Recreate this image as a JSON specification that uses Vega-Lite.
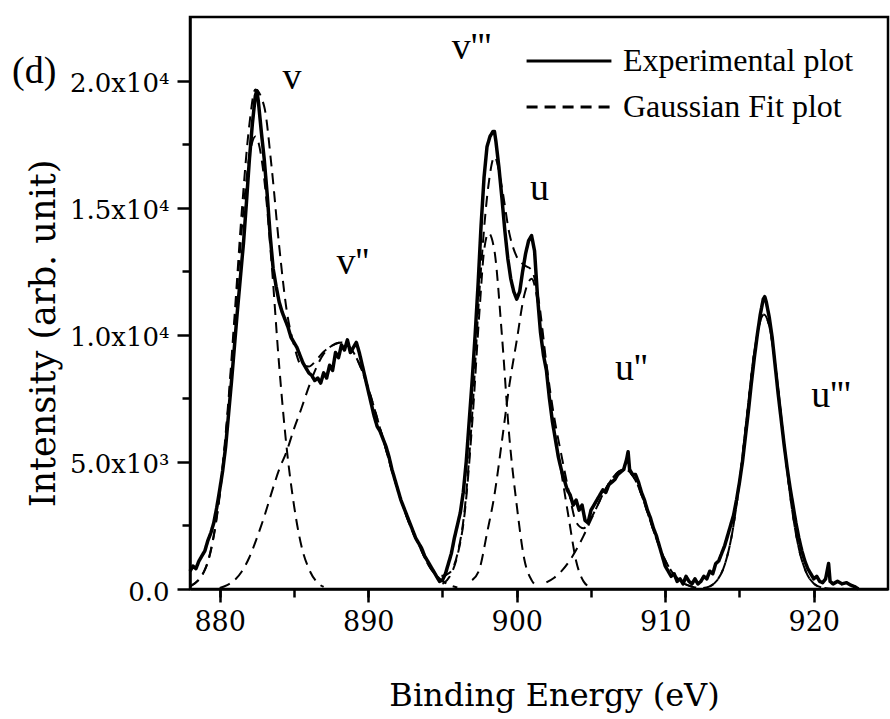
{
  "$schema": "https://vega.github.io/schema/vega-lite/v6.json",
  "width": 698,
  "height": 572,
  "autosize": "none",
  "padding": {"left": 190, "top": 17, "right": 2, "bottom": 130},
  "background": "white",
  "title": {"text": "(d)", "anchor": "start", "frame": "group", "orient": "top", "offset": 0, "baseline": "middle", "dx": -178, "dy": 93, "fontSize": 38, "font": "Liberation Serif", "fontWeight": "normal", "color": "black"},
  "config": {
    "view": {"stroke": "black", "strokeWidth": 2.5},
    "axis": {"domainColor": "black", "domainWidth": 2.5, "tickColor": "black", "tickWidth": 2.5, "labelColor": "black", "titleColor": "black", "titleFontWeight": "normal", "grid": false}
  },
  "datasets": {
    "exp": [
      {"E":878.0,"I":700},{"E":878.2,"I":900},{"E":878.4,"I":800},{"E":878.6,"I":1100},{"E":878.8,"I":1300},{"E":879.0,"I":1500},{"E":879.2,"I":1900},{"E":879.4,"I":2200},{"E":879.6,"I":2600},{"E":879.8,"I":3200},
      {"E":880.0,"I":3900},{"E":880.2,"I":4650},{"E":880.4,"I":5600},{"E":880.6,"I":6900},{"E":880.8,"I":8200},{"E":881.0,"I":9600},{"E":881.2,"I":11000},{"E":881.4,"I":12300},{"E":881.6,"I":13600},{"E":881.8,"I":15200},
      {"E":882.0,"I":16900},{"E":882.2,"I":18300},{"E":882.4,"I":19400},{"E":882.5,"I":19600},{"E":882.6,"I":19200},{"E":882.8,"I":18000},{"E":883.0,"I":16900},{"E":883.2,"I":15500},{"E":883.4,"I":13900},{"E":883.6,"I":12600},
      {"E":883.8,"I":11900},{"E":884.0,"I":11300},{"E":884.2,"I":10900},{"E":884.4,"I":10600},{"E":884.6,"I":10300},{"E":884.8,"I":9900},{"E":885.0,"I":9700},{"E":885.2,"I":9500},{"E":885.4,"I":9200},{"E":885.6,"I":8900},
      {"E":885.8,"I":8700},{"E":886.0,"I":8500},{"E":886.2,"I":8400},{"E":886.4,"I":8200},{"E":886.6,"I":8300},{"E":886.8,"I":8100},{"E":887.0,"I":8500},{"E":887.2,"I":8300},{"E":887.4,"I":8800},{"E":887.6,"I":8600},
      {"E":887.8,"I":9300},{"E":888.0,"I":9100},{"E":888.2,"I":9600},{"E":888.4,"I":9400},{"E":888.6,"I":9800},{"E":888.8,"I":9300},{"E":889.0,"I":9500},{"E":889.2,"I":9700},{"E":889.4,"I":9300},{"E":889.6,"I":8800},
      {"E":889.8,"I":8300},{"E":890.0,"I":7800},{"E":890.2,"I":7300},{"E":890.4,"I":6800},{"E":890.6,"I":6400},{"E":890.8,"I":6200},{"E":891.0,"I":5900},{"E":891.2,"I":5600},{"E":891.4,"I":5200},{"E":891.6,"I":4700},
      {"E":891.8,"I":4300},{"E":892.0,"I":3900},{"E":892.2,"I":3500},{"E":892.4,"I":3200},{"E":892.6,"I":2900},{"E":892.8,"I":2600},{"E":893.0,"I":2300},{"E":893.2,"I":2000},{"E":893.4,"I":1800},{"E":893.6,"I":1600},
      {"E":893.8,"I":1300},{"E":894.0,"I":1100},{"E":894.2,"I":900},{"E":894.4,"I":700},{"E":894.6,"I":500},{"E":894.8,"I":300},{"E":895.0,"I":350},{"E":895.2,"I":600},{"E":895.4,"I":1000},{"E":895.6,"I":1400},
      {"E":895.8,"I":2000},{"E":896.0,"I":2500},{"E":896.2,"I":3000},{"E":896.4,"I":3800},{"E":896.6,"I":5000},{"E":896.8,"I":6600},{"E":897.0,"I":8200},{"E":897.2,"I":10000},{"E":897.4,"I":12000},{"E":897.6,"I":14300},
      {"E":897.8,"I":16200},{"E":898.0,"I":17400},{"E":898.2,"I":17800},{"E":898.4,"I":18000},{"E":898.5,"I":18000},{"E":898.6,"I":17600},{"E":898.8,"I":16600},{"E":899.0,"I":15400},{"E":899.2,"I":14100},{"E":899.4,"I":13000},
      {"E":899.6,"I":12200},{"E":899.8,"I":11700},{"E":900.0,"I":11400},{"E":900.2,"I":11700},{"E":900.4,"I":12500},{"E":900.6,"I":13200},{"E":900.8,"I":13700},{"E":901.0,"I":13900},{"E":901.2,"I":13300},{"E":901.4,"I":11500},
      {"E":901.6,"I":10100},{"E":901.8,"I":9200},{"E":902.0,"I":8600},{"E":902.2,"I":7500},{"E":902.4,"I":6600},{"E":902.6,"I":5900},{"E":902.8,"I":5200},{"E":903.0,"I":4700},{"E":903.2,"I":4300},{"E":903.4,"I":3900},
      {"E":903.6,"I":3700},{"E":903.8,"I":3300},{"E":904.0,"I":3500},{"E":904.2,"I":3100},{"E":904.4,"I":3300},{"E":904.6,"I":2700},{"E":904.8,"I":2600},{"E":905.0,"I":3100},{"E":905.2,"I":3300},{"E":905.4,"I":3500},
      {"E":905.6,"I":3700},{"E":905.8,"I":3900},{"E":906.0,"I":3800},{"E":906.2,"I":4100},{"E":906.4,"I":4200},{"E":906.6,"I":4300},{"E":906.8,"I":4500},{"E":907.0,"I":4600},{"E":907.2,"I":4700},{"E":907.4,"I":5100},
      {"E":907.5,"I":5400},{"E":907.6,"I":4700},{"E":907.8,"I":4500},{"E":908.0,"I":4500},{"E":908.2,"I":4200},{"E":908.4,"I":3800},{"E":908.6,"I":3500},{"E":908.8,"I":3100},{"E":909.0,"I":2800},{"E":909.2,"I":2400},
      {"E":909.4,"I":2100},{"E":909.6,"I":1700},{"E":909.8,"I":1300},{"E":910.0,"I":900},{"E":910.2,"I":700},{"E":910.4,"I":500},{"E":910.6,"I":600},{"E":910.8,"I":300},{"E":911.0,"I":400},{"E":911.2,"I":200},
      {"E":911.4,"I":500},{"E":911.6,"I":300},{"E":911.8,"I":200},{"E":912.0,"I":400},{"E":912.2,"I":200},{"E":912.4,"I":300},{"E":912.6,"I":500},{"E":912.8,"I":400},{"E":913.0,"I":700},{"E":913.2,"I":600},
      {"E":913.4,"I":1000},{"E":913.6,"I":1100},{"E":913.8,"I":1400},{"E":914.0,"I":1700},{"E":914.2,"I":2100},{"E":914.4,"I":2500},{"E":914.6,"I":2900},{"E":914.8,"I":3500},{"E":915.0,"I":4200},{"E":915.2,"I":5000},
      {"E":915.4,"I":6000},{"E":915.6,"I":7000},{"E":915.8,"I":8100},{"E":916.0,"I":9100},{"E":916.2,"I":10000},{"E":916.4,"I":10800},{"E":916.6,"I":11400},{"E":916.7,"I":11500},{"E":916.8,"I":11300},{"E":917.0,"I":10700},
      {"E":917.2,"I":9900},{"E":917.4,"I":8800},{"E":917.6,"I":7700},{"E":917.8,"I":6700},{"E":918.0,"I":5700},{"E":918.2,"I":4800},{"E":918.4,"I":4000},{"E":918.6,"I":3300},{"E":918.8,"I":2600},{"E":919.0,"I":2000},
      {"E":919.2,"I":1500},{"E":919.4,"I":1100},{"E":919.6,"I":800},{"E":919.8,"I":600},{"E":920.0,"I":400},{"E":920.2,"I":500},{"E":920.4,"I":300},{"E":920.6,"I":250},{"E":920.8,"I":400},{"E":921.0,"I":1000},
      {"E":921.1,"I":300},{"E":921.3,"I":200},{"E":921.6,"I":300},{"E":921.9,"I":200},{"E":922.2,"I":250},{"E":922.5,"I":150},{"E":922.8,"I":80},{"E":923.0,"I":0}
    ],
    "fit": [
      {"s":"v","E":878,"I":90},{"s":"v","E":879,"I":750},{"s":"v","E":879.5,"I":1770},{"s":"v","E":880,"I":3670},{"s":"v","E":880.5,"I":6610},{"s":"v","E":881,"I":10390},{"s":"v","E":881.5,"I":14250},{"s":"v","E":882,"I":17030},{"s":"v","E":882.4,"I":17800},{"s":"v","E":883,"I":16120},{"s":"v","E":883.5,"I":12770},{"s":"v","E":884,"I":8820},{"s":"v","E":884.5,"I":5600},{"s":"v","E":885,"I":3300},{"s":"v","E":885.5,"I":1700},{"s":"v","E":886,"I":800},{"s":"v","E":886.5,"I":300},{"s":"v","E":887,"I":80},
      {"s":"v2","E":880,"I":40},{"s":"v2","E":880.5,"I":150},{"s":"v2","E":881,"I":350},{"s":"v2","E":881.5,"I":700},{"s":"v2","E":882,"I":1250},{"s":"v2","E":882.5,"I":2000},{"s":"v2","E":883,"I":2850},{"s":"v2","E":883.5,"I":3800},{"s":"v2","E":884,"I":4700},{"s":"v2","E":884.5,"I":5400},{"s":"v2","E":885,"I":6300},{"s":"v2","E":885.5,"I":7100},{"s":"v2","E":886,"I":7950},{"s":"v2","E":886.5,"I":8700},{"s":"v2","E":887,"I":9250},{"s":"v2","E":887.5,"I":9550},{"s":"v2","E":888.2,"I":9700},{"s":"v2","E":889,"I":9310},{"s":"v2","E":889.5,"I":8710},{"s":"v2","E":890,"I":7900},{"s":"v2","E":890.5,"I":6930},{"s":"v2","E":891,"I":5900},{"s":"v2","E":891.5,"I":4850},{"s":"v2","E":892,"I":3880},{"s":"v2","E":892.5,"I":2990},{"s":"v2","E":893,"I":2240},{"s":"v2","E":893.5,"I":1620},{"s":"v2","E":894,"I":1000},{"s":"v2","E":894.5,"I":600},{"s":"v2","E":895,"I":320},{"s":"v2","E":895.5,"I":150},{"s":"v2","E":896,"I":60},
      {"s":"v3","E":895,"I":200},{"s":"v3","E":895.5,"I":500},{"s":"v3","E":896,"I":1300},{"s":"v3","E":896.5,"I":3000},{"s":"v3","E":897,"I":6500},{"s":"v3","E":897.5,"I":11000},{"s":"v3","E":897.8,"I":13300},{"s":"v3","E":898.1,"I":14000},{"s":"v3","E":898.5,"I":13300},{"s":"v3","E":899,"I":10000},{"s":"v3","E":899.5,"I":6000},{"s":"v3","E":900,"I":3300},{"s":"v3","E":900.5,"I":1200},{"s":"v3","E":901,"I":350},{"s":"v3","E":901.5,"I":80},
      {"s":"u","E":897,"I":350},{"s":"u","E":897.5,"I":800},{"s":"u","E":898,"I":2200},{"s":"u","E":898.5,"I":3700},{"s":"u","E":899,"I":5800},{"s":"u","E":899.5,"I":8000},{"s":"u","E":900,"I":9770},{"s":"u","E":900.5,"I":11540},{"s":"u","E":901,"I":12200},{"s":"u","E":901.5,"I":11000},{"s":"u","E":902,"I":8600},{"s":"u","E":902.5,"I":6400},{"s":"u","E":903,"I":4600},{"s":"u","E":903.5,"I":2800},{"s":"u","E":904,"I":1100},{"s":"u","E":904.5,"I":300},{"s":"u","E":905,"I":60},
      {"s":"u2","E":902,"I":258},{"s":"u2","E":902.5,"I":435},{"s":"u2","E":903,"I":695},{"s":"u2","E":903.5,"I":1060},{"s":"u2","E":904,"I":1530},{"s":"u2","E":904.5,"I":2090},{"s":"u2","E":905,"I":2720},{"s":"u2","E":905.5,"I":3360},{"s":"u2","E":906,"I":3950},{"s":"u2","E":906.5,"I":4400},{"s":"u2","E":907,"I":4660},{"s":"u2","E":907.3,"I":4700},{"s":"u2","E":908,"I":4270},{"s":"u2","E":908.5,"I":3550},{"s":"u2","E":909,"I":2670},{"s":"u2","E":909.5,"I":1830},{"s":"u2","E":910,"I":1130},{"s":"u2","E":910.5,"I":635},{"s":"u2","E":911,"I":325},{"s":"u2","E":911.5,"I":150},{"s":"u2","E":912,"I":63},
      {"s":"u3","E":913,"I":105},{"s":"u3","E":913.5,"I":346},{"s":"u3","E":914,"I":944},{"s":"u3","E":914.5,"I":2170},{"s":"u3","E":915,"I":4200},{"s":"u3","E":915.5,"I":6820},{"s":"u3","E":916,"I":9330},{"s":"u3","E":916.65,"I":10800},{"s":"u3","E":917,"I":10350},{"s":"u3","E":917.5,"I":8400},{"s":"u3","E":918,"I":5740},{"s":"u3","E":918.5,"I":3290},{"s":"u3","E":919,"I":1590},{"s":"u3","E":919.5,"I":644},{"s":"u3","E":920,"I":219},{"s":"u3","E":920.5,"I":63},
      {"s":"env","E":878,"I":100},{"s":"env","E":879,"I":760},{"s":"env","E":879.5,"I":1800},{"s":"env","E":880,"I":3750},{"s":"env","E":880.5,"I":6780},{"s":"env","E":881,"I":10740},{"s":"env","E":881.5,"I":14950},{"s":"env","E":882,"I":18280},{"s":"env","E":882.4,"I":19650},{"s":"env","E":883,"I":18970},{"s":"env","E":883.5,"I":16570},{"s":"env","E":884,"I":13520},{"s":"env","E":884.5,"I":11000},{"s":"env","E":885,"I":9600},{"s":"env","E":885.5,"I":8800},{"s":"env","E":886,"I":8750},{"s":"env","E":886.5,"I":9000},{"s":"env","E":887,"I":9330},{"s":"env","E":887.5,"I":9550},{"s":"env","E":888.2,"I":9700},{"s":"env","E":889,"I":9310},{"s":"env","E":889.5,"I":8710},{"s":"env","E":890,"I":7900},{"s":"env","E":890.5,"I":6930},{"s":"env","E":891,"I":5900},{"s":"env","E":891.5,"I":4850},{"s":"env","E":892,"I":3880},{"s":"env","E":892.5,"I":2990},{"s":"env","E":893,"I":2240},{"s":"env","E":893.5,"I":1620},{"s":"env","E":894,"I":1000},{"s":"env","E":894.5,"I":600},{"s":"env","E":895,"I":520},{"s":"env","E":895.5,"I":650},{"s":"env","E":896,"I":1360},{"s":"env","E":896.5,"I":3150},{"s":"env","E":897,"I":6850},{"s":"env","E":897.5,"I":11800},{"s":"env","E":898.1,"I":15900},{"s":"env","E":898.5,"I":17000},{"s":"env","E":899,"I":15800},{"s":"env","E":899.5,"I":14000},{"s":"env","E":900,"I":13070},{"s":"env","E":900.5,"I":12740},{"s":"env","E":901,"I":12550},{"s":"env","E":901.5,"I":11280},{"s":"env","E":902,"I":8860},{"s":"env","E":902.5,"I":6835},{"s":"env","E":903,"I":5295},{"s":"env","E":903.5,"I":3860},{"s":"env","E":904,"I":2630},{"s":"env","E":904.5,"I":2390},{"s":"env","E":905,"I":2780},{"s":"env","E":905.5,"I":3360},{"s":"env","E":906,"I":3950},{"s":"env","E":906.5,"I":4400},{"s":"env","E":907,"I":4660},{"s":"env","E":907.3,"I":4700},{"s":"env","E":908,"I":4270},{"s":"env","E":908.5,"I":3550},{"s":"env","E":909,"I":2670},{"s":"env","E":909.5,"I":1830},{"s":"env","E":910,"I":1130},{"s":"env","E":910.5,"I":635},{"s":"env","E":911,"I":325},{"s":"env","E":911.5,"I":150},{"s":"env","E":912,"I":63},{"s":"env","E":912.5,"I":40},{"s":"env","E":913,"I":105},{"s":"env","E":913.5,"I":346},{"s":"env","E":914,"I":944},{"s":"env","E":914.5,"I":2170},{"s":"env","E":915,"I":4200},{"s":"env","E":915.5,"I":6820},{"s":"env","E":916,"I":9330},{"s":"env","E":916.65,"I":10800},{"s":"env","E":917,"I":10350},{"s":"env","E":917.5,"I":8400},{"s":"env","E":918,"I":5740},{"s":"env","E":918.5,"I":3290},{"s":"env","E":919,"I":1590},{"s":"env","E":919.5,"I":644},{"s":"env","E":920,"I":219},{"s":"env","E":920.5,"I":63},{"s":"env","E":921,"I":20},{"s":"env","E":922,"I":5},{"s":"env","E":923,"I":0}
    ],
    "labels": [
      {"E":884.86,"I":20100,"t":"v"},
      {"E":888.96,"I":12830,"t":"v''"},
      {"E":896.96,"I":21300,"t":"v'''"},
      {"E":901.53,"I":15750,"t":"u"},
      {"E":907.71,"I":8660,"t":"u''"},
      {"E":921.16,"I":7600,"t":"u'''"}
    ]
  },
  "layer": [
    {
      "data": {"name": "fit"},
      "mark": {"type": "line", "color": "black", "strokeWidth": 2, "interpolate": "monotone"},
      "encoding": {
        "x": {"field": "E", "type": "quantitative", "scale": {"domain": [878, 925], "nice": false, "zero": false},
              "axis": {"orient": "bottom", "values": [880, 885, 890, 895, 900, 905, 910, 915, 920], "tickSize": 8, "labels": false, "domain": false, "title": null}},
        "y": {"field": "I", "type": "quantitative", "scale": {"domain": [0, 22500], "nice": false},
              "axis": {"orient": "left", "values": [2500, 7500, 12500, 17500], "tickSize": 8, "labels": false, "domain": false, "title": null}},
        "detail": {"field": "s", "type": "nominal"},
        "strokeDash": {"datum": "Gaussian Fit plot", "type": "nominal",
                       "scale": {"domain": ["Experimental plot", "Gaussian Fit plot"], "range": [[1, 0], [11, 7]]},
                       "legend": {"orient": "none", "legendX": 363, "legendY": 28, "title": null, "symbolType": "M-3,0H3", "symbolSize": 800, "symbolStrokeWidth": 3, "symbolStrokeColor": "black", "labelFontSize": 32, "labelFont": "Liberation Serif", "labelColor": "black", "labelLimit": 500, "rowPadding": 14, "labelOffset": 38, "padding": 0}}
      }
    },
    {
      "data": {"name": "exp"},
      "mark": {"type": "line", "color": "black", "strokeWidth": 3.5, "strokeJoin": "round"},
      "encoding": {
        "x": {"field": "E", "type": "quantitative", "scale": {"domain": [878, 925], "nice": false, "zero": false},
              "axis": {"orient": "bottom", "values": [880, 890, 900, 910, 920], "tickSize": 13, "labelFont": "DejaVu Serif", "labelFontSize": 27, "labelPadding": 7, "title": "Binding Energy (eV)", "titleFont": "DejaVu Serif", "titleFontSize": 32, "titleX": 364, "titleY": 106, "titleBaseline": "middle"}},
        "y": {"field": "I", "type": "quantitative", "scale": {"domain": [0, 22500], "nice": false},
              "axis": {"orient": "left", "values": [0, 5000, 10000, 15000, 20000], "tickSize": 13, "labelFont": "DejaVu Serif", "labelFontSize": 26, "labelPadding": 8, "labelOffset": 3,
                       "labelExpr": "datum.value == 0 ? '0.0' : datum.value == 5000 ? '5.0x10³' : datum.value == 10000 ? '1.0x10⁴' : datum.value == 15000 ? '1.5x10⁴' : '2.0x10⁴'",
                       "title": "Intensity (arb. unit)", "titleFont": "DejaVu Serif", "titleFontSize": 35, "titleX": -147, "titleY": 316, "titleAngle": -90, "titleBaseline": "middle"}},
        "strokeDash": {"datum": "Experimental plot", "type": "nominal"}
      }
    },
    {
      "data": {"name": "labels"},
      "mark": {"type": "text", "font": "Liberation Serif", "fontSize": 38, "color": "black", "align": "center", "baseline": "middle"},
      "encoding": {
        "x": {"field": "E", "type": "quantitative", "axis": null},
        "y": {"field": "I", "type": "quantitative", "axis": null},
        "text": {"field": "t", "type": "nominal"}
      }
    }
  ],
  "resolve": {"axis": {"x": "independent", "y": "independent"}}
}
